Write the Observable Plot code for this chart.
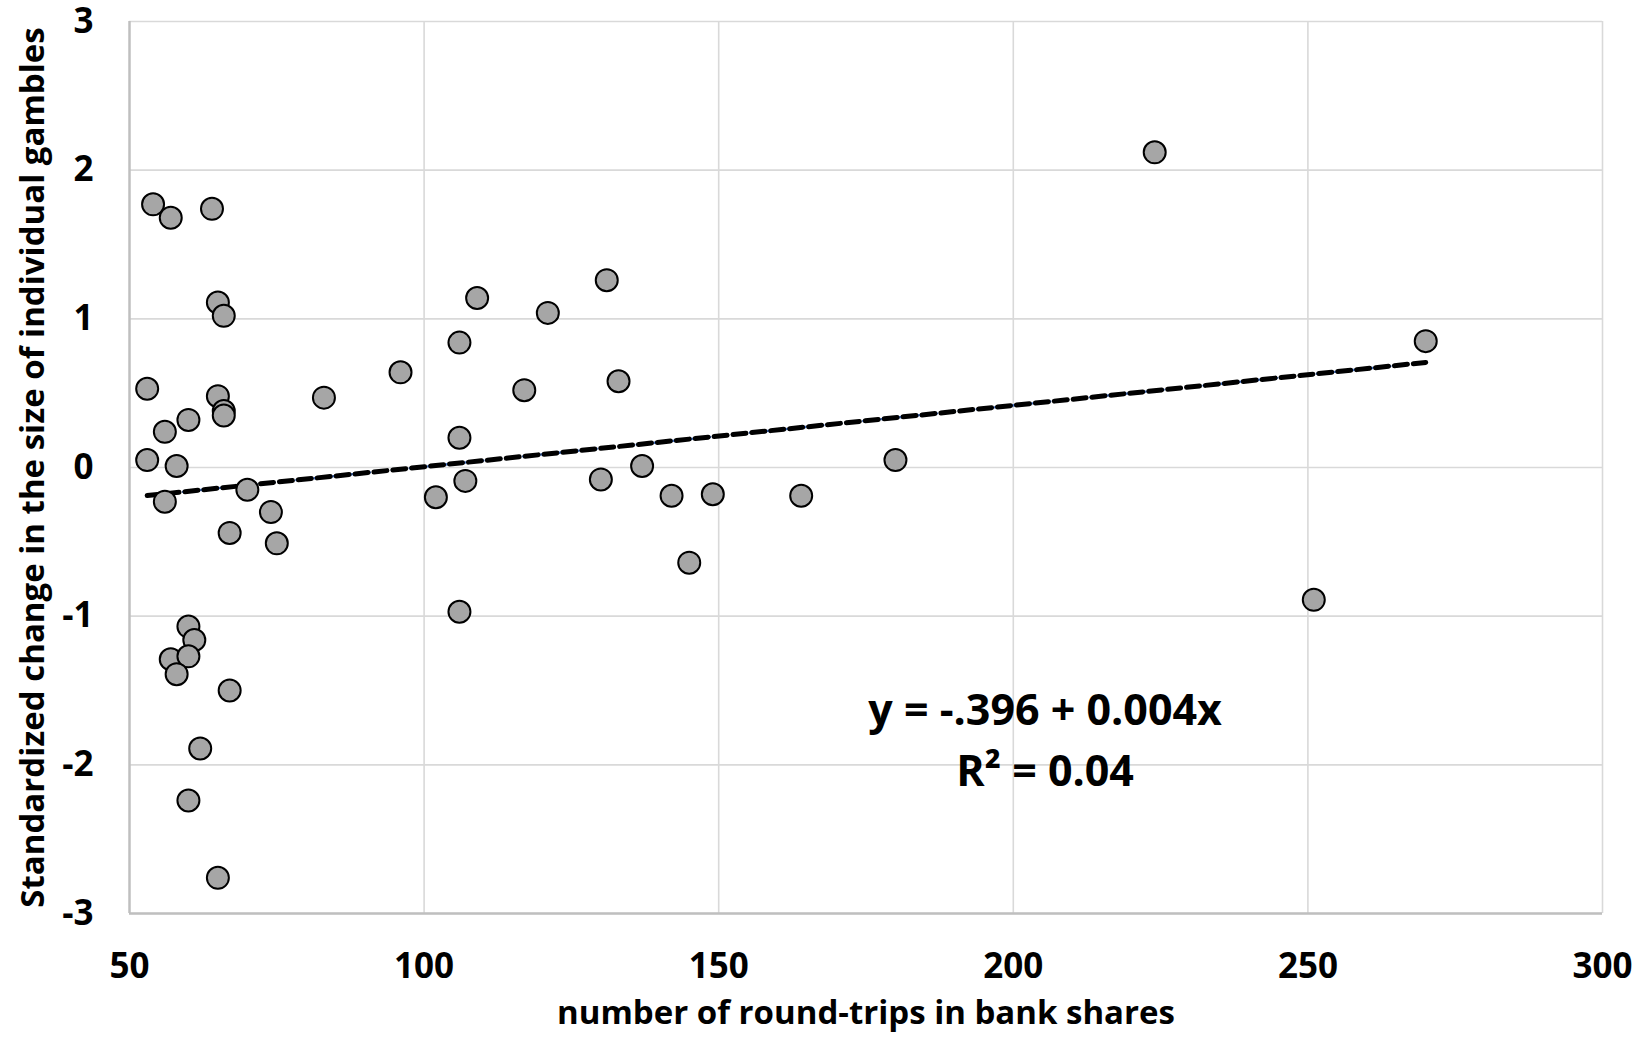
<!DOCTYPE html>
<html>
<head>
<meta charset="utf-8">
<script src="https://cdn.jsdelivr.net/npm/d3@7"></script>
<script src="https://cdn.jsdelivr.net/npm/@observablehq/plot@0.6"></script>
<style>
  html, body { margin: 0; padding: 0; background: #ffffff; overflow: hidden; }
  #chart svg { display: block; }
</style>
</head>
<body>
<div id="chart"></div>
<script>
// ---- data ----
const roundTrips = [
  54, 57, 64, 65, 66, 109, 106, 96, 53, 65,
  66, 66, 83, 60, 56, 53, 58, 106, 107, 102,
  56, 70, 74, 67, 75, 106, 60, 61, 57, 60,
  58, 67, 62, 60, 65, 131, 121, 117, 133, 130,
  137, 142, 149, 164, 145, 180, 224, 270, 251
];
const gambleChange = [
  1.77, 1.68, 1.74, 1.11, 1.02, 1.14, 0.84, 0.64, 0.53, 0.48,
  0.38, 0.35, 0.47, 0.32, 0.24, 0.05, 0.01, 0.20, -0.09, -0.20,
  -0.23, -0.15, -0.30, -0.44, -0.51, -0.97, -1.07, -1.16, -1.29, -1.27,
  -1.39, -1.50, -1.89, -2.24, -2.76, 1.26, 1.04, 0.52, 0.58, -0.08,
  0.01, -0.19, -0.18, -0.19, -0.64, 0.05, 2.12, 0.85, -0.89
];
const xTicks = [50, 100, 150, 200, 250, 300];
const yTicks = [-3, -2, -1, 0, 1, 2, 3];
const xTitle = "number of round-trips in bank shares";
const yTitle = "Standardized change in the size of individual gambles";
const equationText = ["y = -.396 + 0.004x", "R² = 0.04"];
const equationX = [205.4, 205.4];
const equationY = [-1.73, -2.14];

// ---- tables built from the arrays ----
const points = roundTrips.map((x, i) => ({x, y: gambleChange[i]}));
const equation = equationText.map((t, i) => ({text: t, x: equationX[i], y: equationY[i]}));

const font = "'Open Sans', 'DejaVu Sans', sans-serif";

const chart = Plot.plot({
  width: 1648,
  height: 1043,
  marginLeft: 129,
  marginRight: 46,
  marginTop: 21,
  marginBottom: 130,
  style: {fontFamily: font, fontWeight: "bold", color: "#000", background: "#fff", overflow: "visible"},
  x: {domain: [50, 300], ticks: xTicks},
  y: {domain: [-3, 3], ticks: yTicks},
  marks: [
    Plot.gridX(xTicks, {stroke: "#d9d9d9", strokeOpacity: 1, strokeWidth: 1.6}),
    Plot.gridY(yTicks, {stroke: "#d9d9d9", strokeOpacity: 1, strokeWidth: 1.6}),
    Plot.ruleX([50], {stroke: "#bfbfbf", strokeWidth: 2.4}),
    Plot.ruleY([-3], {stroke: "#bfbfbf", strokeWidth: 2.4}),
    Plot.axisX({ticks: xTicks, tickSize: 0, tickPadding: 40, fontSize: 35, fontWeight: "bold", label: null, tickFormat: d => String(d)}),
    Plot.axisY({ticks: yTicks, tickSize: 0, tickPadding: 36, fontSize: 35, fontWeight: "bold", label: null, tickFormat: d => String(d)}),
    Plot.linearRegressionY(points, {x: "x", y: "y", ci: 0, stroke: "#4472c4", strokeWidth: 2.4, strokeDasharray: "2,4"}),
    Plot.linearRegressionY(points, {x: "x", y: "y", ci: 0, stroke: "#000", strokeWidth: 5, strokeDasharray: "13,6", strokeLinecap: "round"}),
    Plot.dot(points, {x: "x", y: "y", r: 11, fill: "#a6a6a6", stroke: "#000", strokeWidth: 2}),
    Plot.text(equation, {x: "x", y: "y", text: "text", fontSize: 43, fontWeight: "bold", lineAnchor: "bottom", textAnchor: "middle", fill: "#000"}),
    Plot.text([xTitle], {text: d => d, frameAnchor: "bottom", dy: 110, lineAnchor: "bottom", fontSize: 33, fontWeight: "bold", fill: "#000"}),
    Plot.text([yTitle], {text: d => d, frameAnchor: "left", dx: -86, rotate: -90, lineAnchor: "bottom", textAnchor: "middle", fontSize: 33, fontWeight: "bold", fill: "#000"})
  ]
});
document.getElementById("chart").appendChild(chart);
</script>
</body>
</html>
